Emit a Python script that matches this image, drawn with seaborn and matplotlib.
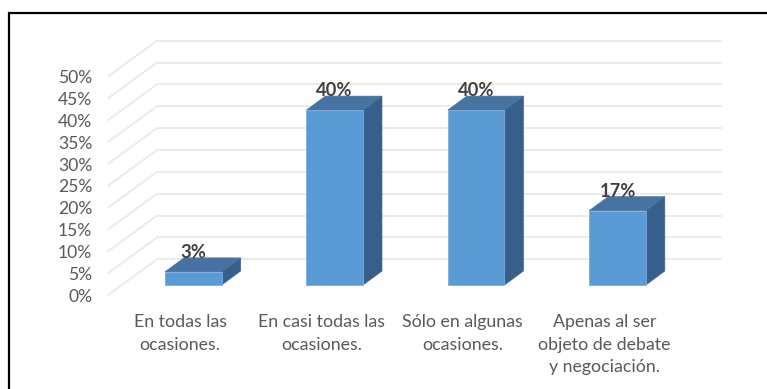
import matplotlib
matplotlib.use("Agg")
import matplotlib.pyplot as plt
from matplotlib.patches import Polygon, Rectangle
import seaborn as sns
import pandas as pd

# Survey responses (share of respondents)
categories = [
    "En todas las\nocasiones.",
    "En casi todas las\nocasiones.",
    "Sólo en algunas\nocasiones.",
    "Apenas al ser\nobjeto de debate\ny negociación.",
]
values = [3, 40, 40, 17]
tick_values = [0, 5, 10, 15, 20, 25, 30, 35, 40, 45, 50]
tick_labels = [f"{t}%" for t in tick_values]

sns.set_style("white")
plt.rcParams["font.family"] = ["Lato", "DejaVu Sans"]

FRONT = "#5B9BD5"
TOP = "#4673A2"
SIDE = "#385F89"
GRID = "#E9E9E9"
TICK_TXT = "#595959"
VAL_TXT = "#404040"

# oblique projection of the depth axis (data units)
BAR_DX, BAR_DY = 0.134, 3.2          # depth of each column
WALL_FRONT_X, WALL_FRONT_DY = -0.603, -2.29
WALL_BACK_X, WALL_BACK_DY = -0.257, 5.88
WALL_RIGHT_X = 3.738

df = pd.DataFrame({"cat": categories, "val": values})

fig = plt.figure(figsize=(7.67, 3.89), dpi=100)
ax = fig.add_axes([0, 0, 1, 1])

# back wall and side wall gridlines
for t, lab in zip(tick_values, tick_labels):
    ax.plot([WALL_BACK_X, WALL_RIGHT_X], [t + WALL_BACK_DY] * 2,
            color=GRID, lw=1.3, zorder=0, solid_capstyle="butt")
    ax.plot([WALL_FRONT_X, WALL_BACK_X],
            [t + WALL_FRONT_DY, t + WALL_BACK_DY],
            color=GRID, lw=1.3, zorder=0)
    ax.text(WALL_FRONT_X - 0.112, t + WALL_FRONT_DY - 0.4, lab,
            ha="right", va="center", fontsize=12.6, color=TICK_TXT)

# front faces of the columns
sns.barplot(data=df, x="cat", y="val", ax=ax, width=0.4, color=FRONT,
            saturation=1, edgecolor="#7EADE0", linewidth=0.6, zorder=3)

for patch, v in zip(ax.patches, values):
    x0 = patch.get_x()
    w = patch.get_width()
    h = patch.get_height()
    x1 = x0 + w
    top = Polygon([(x0, h), (x1, h), (x1 + BAR_DX, h + BAR_DY),
                   (x0 + BAR_DX, h + BAR_DY)],
                  closed=True, facecolor=TOP, edgecolor=TOP, lw=0.5, zorder=2)
    side = Polygon([(x1, 0), (x1 + BAR_DX, BAR_DY), (x1 + BAR_DX, h + BAR_DY),
                    (x1, h)],
                   closed=True, facecolor=SIDE, edgecolor=SIDE, lw=0.5, zorder=2)
    ax.add_patch(side)
    ax.add_patch(top)
    ax.text(x0 + w / 2, h + BAR_DY, f"{v}%", ha="center", va="baseline",
            fontsize=13.2, fontweight="bold", color=VAL_TXT, zorder=5)

# category labels on the floor's front edge
for i, c in enumerate(categories):
    ax.text(i - 0.094, -6.6, c, ha="center", va="top", fontsize=12.8,
            color=TICK_TXT, linespacing=1.52)

ax.set_xlim(-1.367, 4.057)
ax.set_ylim(-23.79, 65.19)
ax.axis("off")

# chart frame
fig.patches.append(Rectangle((9 / 767, -0.2), 1.2, (389 - 13) / 389 + 0.2,
                             transform=fig.transFigure, fill=False,
                             edgecolor="black", lw=1.6))

fig.savefig("out.png", dpi=100, facecolor="white")
